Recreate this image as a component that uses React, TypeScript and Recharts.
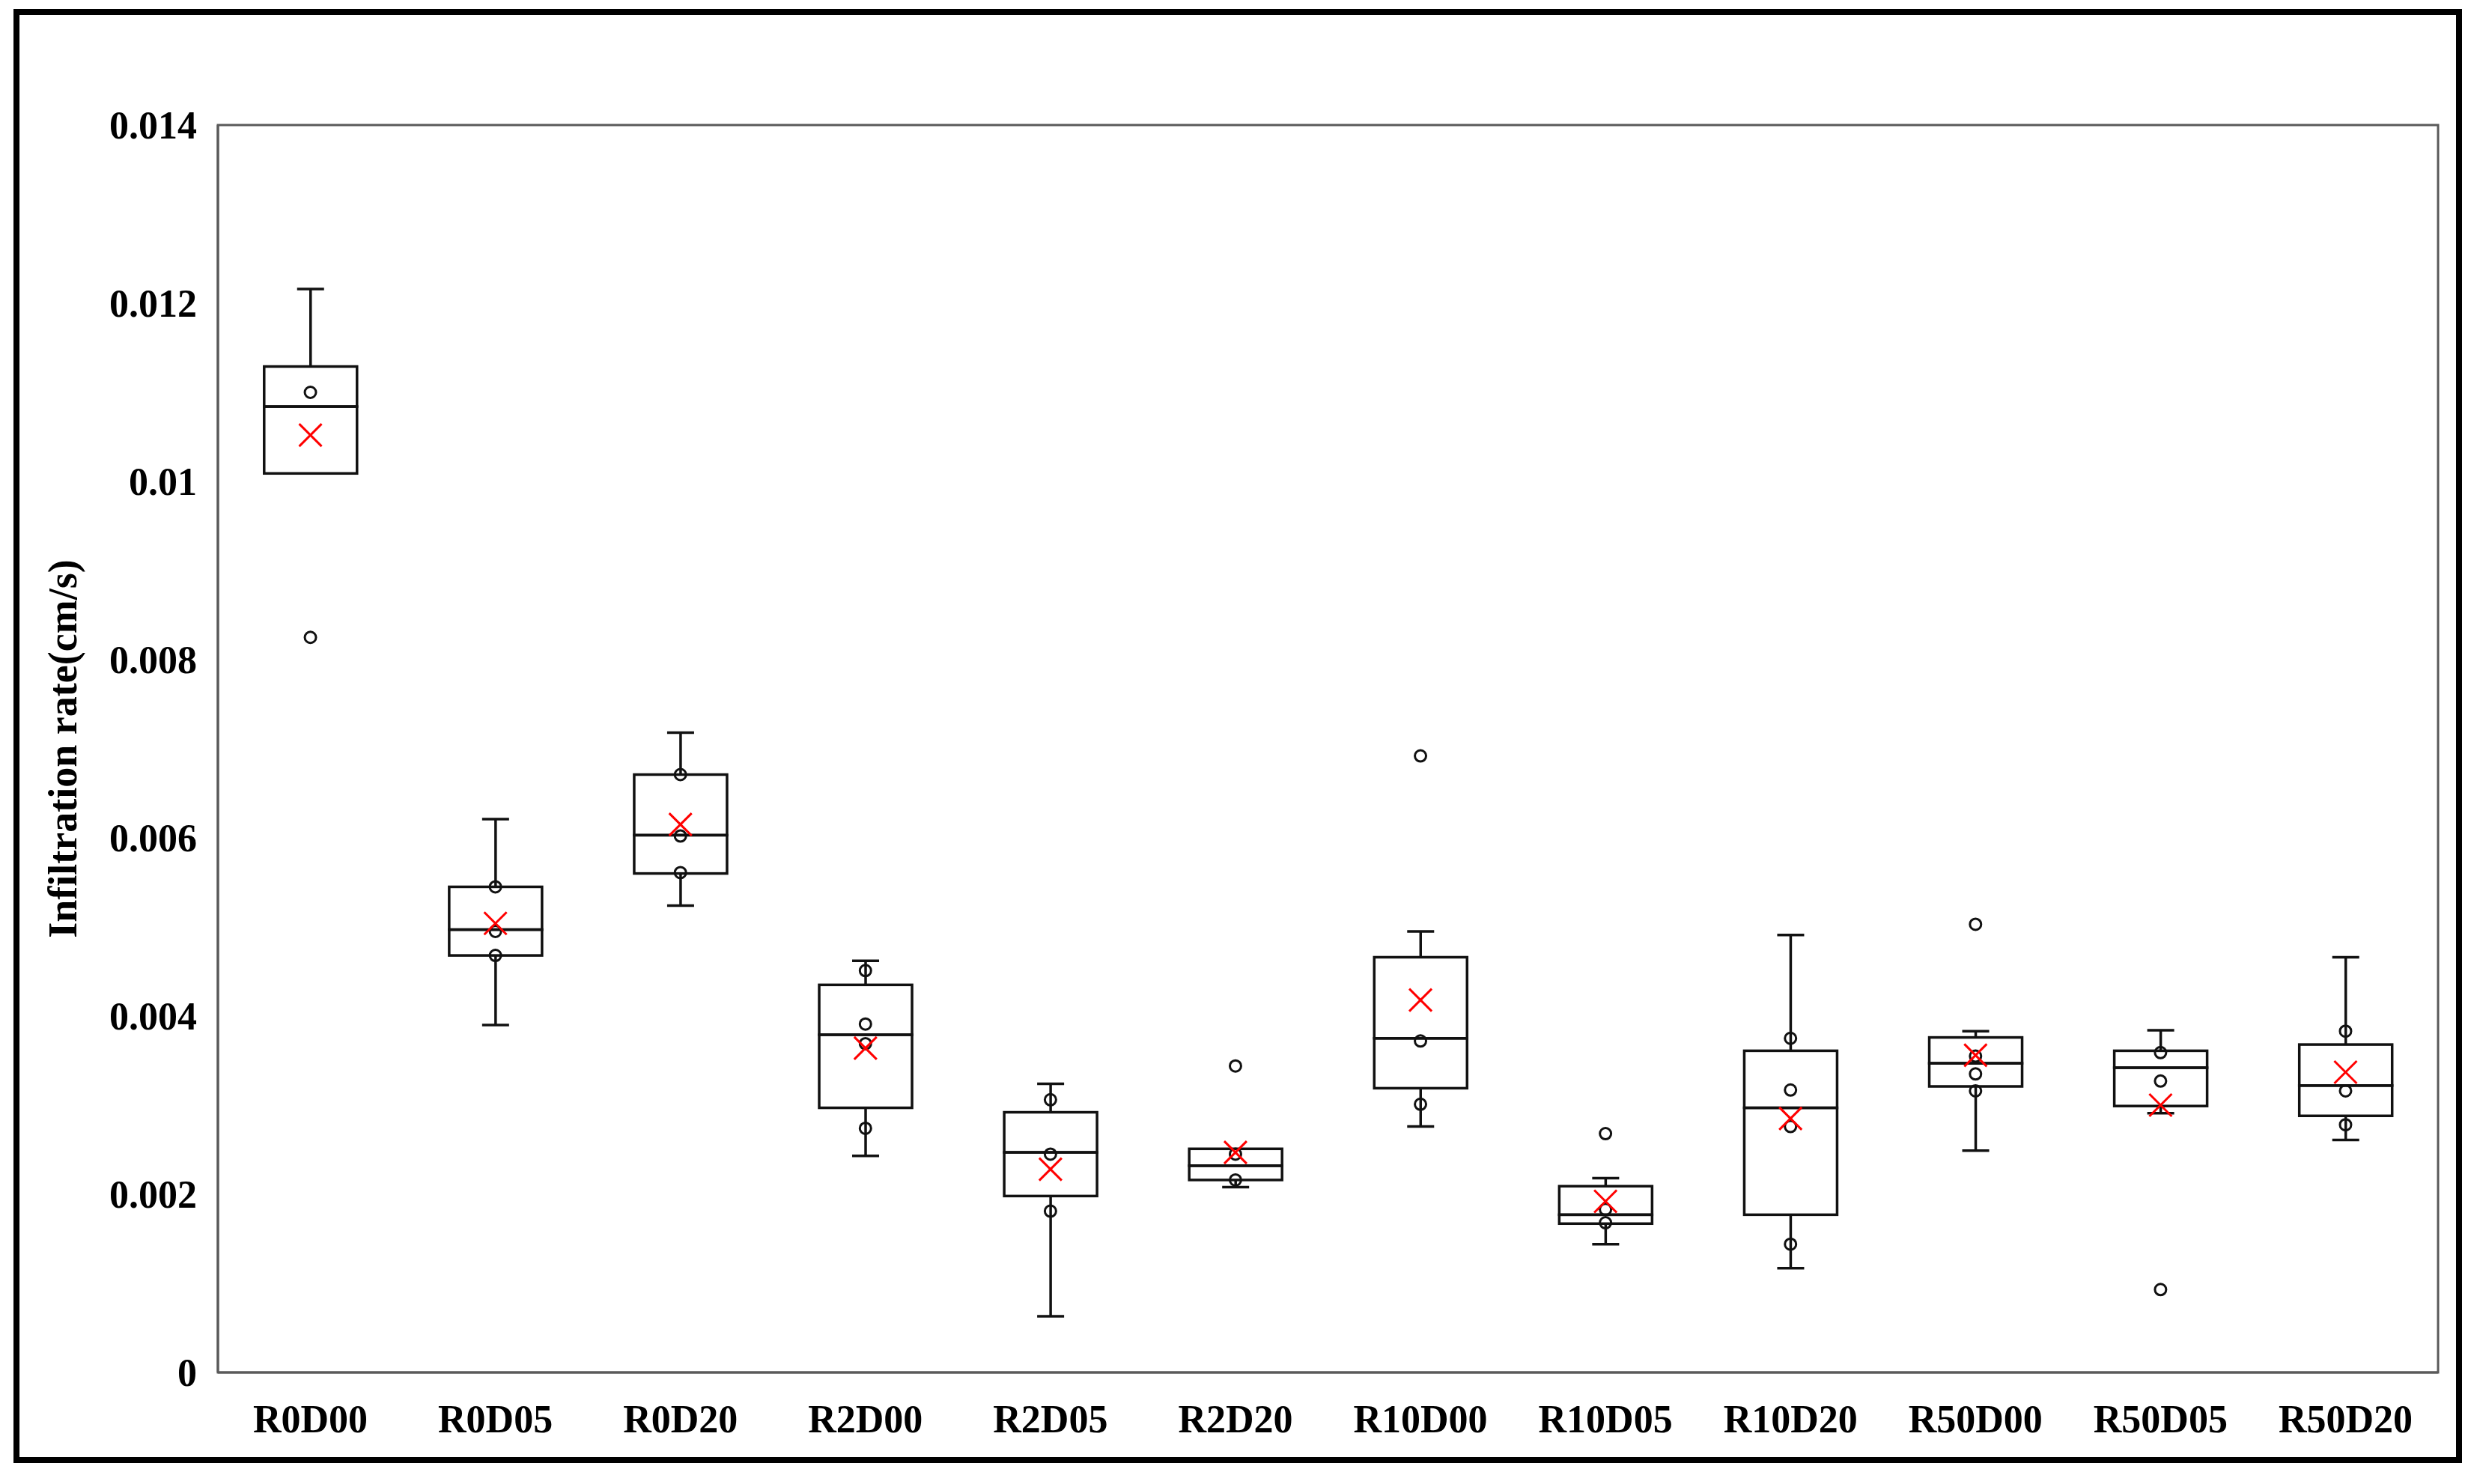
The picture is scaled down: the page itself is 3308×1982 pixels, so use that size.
import React from 'react';
import { ComposedChart, Bar, Line, XAxis, YAxis, ReferenceArea } from 'recharts';

const categories = ['R0D00', 'R0D05', 'R0D20', 'R2D00', 'R2D05', 'R2D20', 'R10D00', 'R10D05', 'R10D20', 'R50D00', 'R50D05', 'R50D20'];
const whiskerLow = [0.01009, 0.0039, 0.00524, 0.00243, 0.00063, 0.00208, 0.00276, 0.00144, 0.00117, 0.00249, 0.00291, 0.00261];
const q1 = [0.01009, 0.00468, 0.0056, 0.00297, 0.00198, 0.00216, 0.00319, 0.00167, 0.00177, 0.00321, 0.00299, 0.00288];
const median = [0.01084, 0.00497, 0.00603, 0.00379, 0.00247, 0.00232, 0.00375, 0.00177, 0.00297, 0.00347, 0.00342, 0.00322];
const q3 = [0.01129, 0.00545, 0.00671, 0.00435, 0.00292, 0.00251, 0.00466, 0.00209, 0.00361, 0.00376, 0.00361, 0.00368];
const whiskerHigh = [0.01216, 0.00621, 0.00718, 0.00462, 0.00324, 0.00251, 0.00495, 0.00218, 0.00491, 0.00383, 0.00384, 0.00466];
const means = [0.01052, 0.00504, 0.00615, 0.00364, 0.00228, 0.00247, 0.00418, 0.00192, 0.00285, 0.00356, 0.003, 0.00337];
const points: number[][] = [
  [0.011, 0.00825],
  [0.00545, 0.00495, 0.00468],
  [0.00671, 0.00602, 0.00561],
  [0.00451, 0.00391, 0.00369, 0.00274],
  [0.00306, 0.00245, 0.00181],
  [0.00344, 0.00245, 0.00216],
  [0.00692, 0.00372, 0.00301],
  [0.00268, 0.00183, 0.00168],
  [0.00375, 0.00317, 0.00276, 0.00144],
  [0.00503, 0.00355, 0.00335, 0.00316],
  [0.00359, 0.00327, 0.00093],
  [0.00383, 0.00316, 0.00278],
];
const yTicks = [0, 0.002, 0.004, 0.006, 0.008, 0.01, 0.012, 0.014];
const yTitle = 'Infiltration rate(cm/s)';

const pointKeys = ['p0', 'p1', 'p2', 'p3'];

// stacked segments: base -> lower whisker -> lower box -> upper box -> upper whisker
const data = categories.map((name, i) => {
  const row: any = {
    name,
    base: whiskerLow[i],
    lowW: q1[i] - whiskerLow[i],
    lowBox: median[i] - q1[i],
    upBox: q3[i] - median[i],
    upW: whiskerHigh[i] - q3[i],
    mean: means[i],
  };
  pointKeys.forEach((k, j) => {
    row[k] = points[i][j] !== undefined ? points[i][j] : null;
  });
  return row;
});

const FONT = "'Times New Roman', 'Liberation Serif', serif";
const LINE = '#111';
const AXIS = '#5a5a5a';
const CAP = 18;
const SW = 3.5;

const EmptyShape = () => <g />;
const BoxShape = (p: any) => {
  if (!(p.height > 0.3)) return <g />;
  return <rect x={p.x} y={p.y} width={p.width} height={p.height} fill="none" stroke={LINE} strokeWidth={SW} />;
};
const LowWhiskerShape = (p: any) => {
  if (!(p.height > 0.5)) return <g />;
  const cx = p.x + p.width / 2;
  return (
    <g>
      <line x1={cx} x2={cx} y1={p.y} y2={p.y + p.height} stroke={LINE} strokeWidth={SW} />
      <line x1={cx - CAP} x2={cx + CAP} y1={p.y + p.height} y2={p.y + p.height} stroke={LINE} strokeWidth={SW} />
    </g>
  );
};
const HighWhiskerShape = (p: any) => {
  if (!(p.height > 0.5)) return <g />;
  const cx = p.x + p.width / 2;
  return (
    <g>
      <line x1={cx} x2={cx} y1={p.y} y2={p.y + p.height} stroke={LINE} strokeWidth={SW} />
      <line x1={cx - CAP} x2={cx + CAP} y1={p.y} y2={p.y} stroke={LINE} strokeWidth={SW} />
    </g>
  );
};
const MeanDot = (p: any) => {
  if (p.value == null || p.cy == null || isNaN(p.cy)) return <g key={p.key} />;
  const s = 15;
  return (
    <g key={p.key}>
      <line x1={p.cx - s} y1={p.cy - s} x2={p.cx + s} y2={p.cy + s} stroke="#ff0000" strokeWidth={3} />
      <line x1={p.cx - s} y1={p.cy + s} x2={p.cx + s} y2={p.cy - s} stroke="#ff0000" strokeWidth={3} />
    </g>
  );
};
const PointDot = (p: any) => {
  if (p.value == null || p.cy == null || isNaN(p.cy)) return <g key={p.key} />;
  return <circle key={p.key} cx={p.cx} cy={p.cy} r={7.5} fill="none" stroke={LINE} strokeWidth={3} />;
};

const fmt = (v: number) => (v === 0 ? '0' : String(parseFloat(v.toFixed(3))));

export default function App() {
  return (
    <div style={{ position: 'absolute', left: 0, top: 0, width: 3308, height: 1982, background: '#fff' }}>
      <ComposedChart
        width={3308}
        height={1982}
        data={data}
        margin={{ top: 167, right: 52, bottom: 0, left: 0 }}
        barCategoryGap="25%"
      >
        <XAxis
          dataKey="name"
          height={149}
          tickLine={false}
          tickSize={6}
          tickMargin={37}
          axisLine={{ stroke: AXIS, strokeWidth: 3 }}
          tick={{ fill: '#000', fontSize: 52, fontWeight: 700, fontFamily: FONT }}
          interval={0}
        />
        <YAxis
          width={291}
          domain={[0, 0.014]}
          ticks={yTicks}
          tickFormatter={fmt}
          tickLine={false}
          tickSize={6}
          tickMargin={22}
          axisLine={{ stroke: AXIS, strokeWidth: 3 }}
          tick={{ fill: '#000', fontSize: 52, fontWeight: 700, fontFamily: FONT }}
          interval={0}
          allowDataOverflow
        />
        <ReferenceArea y1={0} y2={0.014} fill="none" fillOpacity={0} stroke={AXIS} strokeWidth={3} />
        <Bar dataKey="base" stackId="box" shape={EmptyShape} isAnimationActive={false} />
        <Bar dataKey="lowW" stackId="box" shape={LowWhiskerShape} isAnimationActive={false} />
        <Bar dataKey="lowBox" stackId="box" shape={BoxShape} isAnimationActive={false} />
        <Bar dataKey="upBox" stackId="box" shape={BoxShape} isAnimationActive={false} />
        <Bar dataKey="upW" stackId="box" shape={HighWhiskerShape} isAnimationActive={false} />
        {pointKeys.map((k) => (
          <Line
            key={k}
            dataKey={k}
            stroke="none"
            dot={PointDot}
            activeDot={false}
            isAnimationActive={false}
          />
        ))}
        <Line dataKey="mean" stroke="none" dot={MeanDot} activeDot={false} isAnimationActive={false} />
      </ComposedChart>
      <svg width={3308} height={1982} style={{ position: 'absolute', left: 0, top: 0, pointerEvents: 'none' }}>
        <text
          x={102}
          y={1000}
          transform="rotate(-90, 102, 1000)"
          textAnchor="middle"
          fontFamily={FONT}
          fontWeight={700}
          fontSize={54}
          fill="#000"
        >
          {yTitle}
        </text>
      </svg>
      <div
        style={{
          position: 'absolute',
          left: 18,
          top: 12,
          width: 3270,
          height: 1942,
          border: '8px solid #000',
          boxSizing: 'border-box',
          pointerEvents: 'none',
        }}
      />
    </div>
  );
}
